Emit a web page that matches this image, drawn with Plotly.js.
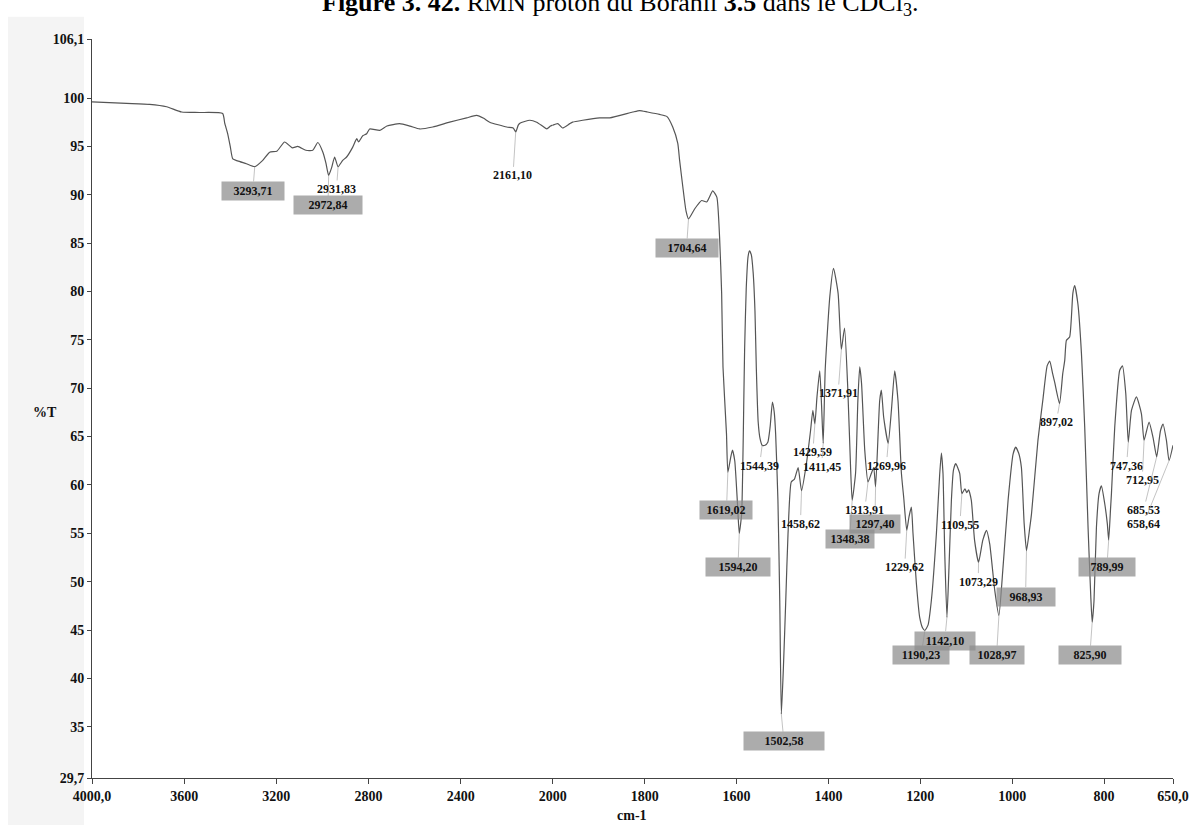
<!DOCTYPE html>
<html>
<head>
<meta charset="utf-8">
<script src="https://cdn.plot.ly/plotly-3.0.1.min.js"></script>
<style>html,body{margin:0;padding:0;background:#fff;}#chart{width:1195px;height:825px;}</style>
</head>
<body>
<div id="chart"></div>
<script>
// ---- Spectrum data (wavenumber cm-1, %T) ----
const wavenumber = [4000,3850,3750,3676,3611,3533,3433,3424,3411,3400,3389,3368,3330,3294,3259,3229,3198,3164,3131,3107,3072,3042,3020,2998,2985,2973,2960,2947,2932,2912,2895,2869,2851,2843,2825,2808,2795,2751,2720,2665,2620,2578,2521,2448,2374,2331,2300,2274,2200,2172,2161,2150,2143,2100,2070,2045,2026,2010,2000,
1989,1979,1963,1957,1935,1898,1876,1826,1811,1794,1768,1752,1739,1728,1724,1717,1710,1704.6,1691,1676,1665,1652,1643,1637,1632.5,1629.6,1622,1619,1613,1609,1604,1598,1594.2,1589,1586.5,1584.5,1582.5,1579,1575,1572,1568,1564,1560,1557,1553,1549,1544.4,1538,1532,1527,1522,1518,1515,1510,1506,1502.6,1498,1493,1488,1481,1474,1466,1458.6,1448,1439,1434,1429.6,1425,1419,1415,1411.5,1407,1397,1389,1379,1372,1365,1358,1352,1348.4,1341,1336,1332,1328,1321,1313.9,1306.6,1301.5,1297.4,1288.5,1284.8,1279.8,1270,1263,1255.8,1248.6,1241.2,1236.2,1229.6,1224.7,1219.5,1216,1208.6,1201.4,1195,1190.2,1183.3,1175.9,1165,1158,1154.2,1150.7,1147,1142.1,1137.6,1132.4,1128,1123,1114.3,1109.6,1103,1099,1095,1089,1082,1073.3,1064,1056,1049,1038,1029,1020,1009,998,992.4,986,980,974,968.9,962,958,944,933,924,918.3,912,907.5,897,890,885.6,882,875,868,864,857,849.3,842.2,834.9,829,825.9,822,816.7,811,805.8,798.6,793,790,786,784,776.8,766,760,752.8,747.4,740.4,729.6,718.7,713,702.1,693.4,685.5,677.3,671.7,664.3,658.6,650];
const transmittance = [99.6,99.45,99.35,99.1,98.55,98.5,98.4,97.4,96.3,95.0,93.7,93.5,93.2,92.9,93.55,94.4,94.5,95.45,94.85,95.0,94.6,94.6,95.4,94.4,93.3,92.0,92.8,93.9,92.9,93.55,93.9,94.9,95.8,95.45,96.1,96.3,96.8,96.65,97.1,97.35,97.1,96.8,97.0,97.5,97.95,98.2,97.9,97.5,97.0,96.9,96.5,97.2,97.4,97.7,97.5,97.1,96.8,97.1,97.2,
97.35,96.9,97.35,97.5,97.7,97.95,97.95,98.55,98.7,98.55,98.3,98.1,97.0,95.3,93.55,90.8,88.3,87.5,88.55,89.4,89.25,90.4,89.75,85.6,79.8,72.2,65.3,61.3,62.8,63.6,62.5,58.0,55.0,57.0,62.0,68.0,74.0,80.3,83.6,84.2,83.8,82.0,78.0,72.0,66.5,64.8,64.1,64.1,64.4,66.0,68.55,67.5,65.3,58.4,48.0,36.3,41.2,48.0,55.0,60.3,60.6,61.8,59.4,62.2,65.6,67.7,66.3,69.1,71.8,68.2,64.3,72.0,79.5,82.4,79.8,74.0,76.2,70.0,62.0,58.4,61.2,68.7,72.2,70.5,63.6,60.3,61.2,61.8,59.8,68.7,69.8,67.0,64.3,67.7,71.8,68.7,61.2,58.7,55.3,56.7,57.7,55.0,49.8,46.3,45.2,44.95,45.5,48.1,55.0,61.0,63.3,61.2,53.2,46.3,51.5,58.4,61.5,62.2,61.2,59.1,59.6,59.2,59.5,58.4,54.3,52.0,54.3,55.3,53.9,49.1,46.5,51.5,58.4,63.2,63.9,63.3,61.8,56.0,53.2,55.5,57.0,64.6,68.9,72.3,72.8,71.5,70.6,68.4,71.5,72.9,74.95,75.3,79.8,80.6,78.7,73.6,66.0,55.6,48.5,45.8,48.0,55.6,59.1,59.9,58.05,56.0,54.3,57.5,59.1,66.0,71.85,72.3,69.45,64.4,67.7,69.1,67.35,64.6,66.5,64.9,62.9,65.6,66.3,64.6,62.5,64.1];

// ---- Peak picks ----
const peakLabels = ['3293,71','2931,83','2972,84','2161,10','1704,64','1619,02','1594,20','1544,39','1502,58','1458,62','1429,59','1411,45','1371,91','1348,38','1313,91','1297,40','1269,96','1229,62','1190,23','1142,10','1109,55','1073,29','1028,97','968,93','897,02','825,90','789,99','747,36','712,95','685,53','658,64'];
const peakWn = [3293.71,2931.83,2972.84,2161.10,1704.64,1619.02,1594.20,1544.39,1502.58,1458.62,1429.59,1411.45,1371.91,1348.38,1313.91,1297.40,1269.96,1229.62,1190.23,1142.10,1109.55,1073.29,1028.97,968.93,897.02,825.90,789.99,747.36,712.95,685.53,658.64];
const peakT = [92.9,92.9,92.0,96.5,87.5,61.3,55.0,64.1,36.3,59.4,66.3,64.3,74.0,58.4,60.3,59.8,64.3,55.3,44.95,46.3,59.1,52.0,46.5,53.2,68.4,45.8,54.3,64.4,64.6,62.9,62.5];

// ---- Axis tick labels ----
const yTickVals = [29.7,35,40,45,50,55,60,65,70,75,80,85,90,95,100,106.1];
const yTickText = ['29,7','35','40','45','50','55','60','65','70','75','80','85','90','95','100','106,1'];
const xTickVals1 = [4000,3600,3200,2800,2400,2000];
const xTickText1 = ['4000,0','3600','3200','2800','2400','2000'];
const xTickVals2 = [1800,1600,1400,1200,1000,800,650];
const xTickText2 = ['1800','1600','1400','1200','1000','800','650,0'];

// ---- Label placement (layout only): [wavenumber, %T] of the text centre ----
const labelPos = [[3302,90.4],[2939,90.6],[2976,88.9],[2173,92.0],[1709,84.5],[1622,57.4],[1597,51.5],[1550,62.0],[1497,33.5],[1461,56.0],[1434,63.4],[1415,61.9],[1379,69.5],[1354,54.4],[1321,57.4],[1299,56.0],[1274,62.0],[1234,51.5],[1198,42.4],[1147,43.9],[1114,55.9],[1074,50.0],[1034,42.4],[971,48.45],[904,66.5],[831,42.4],[794,51.5],[751,62.0],[717,60.5],[714,57.4],[714,56.0]];
const marked = [true,false,true,false,true,true,true,false,true,false,false,false,false,true,false,true,false,false,true,true,false,false,true,true,false,true,true,false,false,false,false];
const markWidth = [62,0,68,0,62,52,64,0,80,0,0,0,0,48,0,50,0,0,56,60,0,0,54,58,0,62,56,0,0,0,0];

const SPLIT = 2000;
const w1=[],t1=[],w2=[],t2=[];
wavenumber.forEach((w,i)=>{
  if (w>=SPLIT){w1.push(w);t1.push(transmittance[i]);}
  if (w<=SPLIT){w2.push(w);t2.push(transmittance[i]);}
});

const lineStyle = {color:'#555555', width:1.2, shape:'spline', smoothing:0.5};
const traces = [
  {x:w1, y:t1, xaxis:'x', yaxis:'y', mode:'lines', line:lineStyle, hoverinfo:'skip'},
  {x:w2, y:t2, xaxis:'x2', yaxis:'y', mode:'lines', line:lineStyle, hoverinfo:'skip'}
];

const serif = 'Liberation Serif, Times New Roman, serif';
const tickFont = {family:serif, size:14, color:'#111', weight:'bold'};

const annotations = peakLabels.map((txt,i)=>{
  const ref = peakWn[i] >= SPLIT ? 'x' : 'x2';
  const a = {
    text: txt, xref: ref, yref:'y', x: peakWn[i], y: peakT[i],
    axref: ref, ayref:'y', ax: labelPos[i][0], ay: labelPos[i][1],
    showarrow:true, arrowhead:0, arrowwidth:0.6, arrowcolor:'#9a9a9a', standoff:0,
    font:{family:serif, size:12, color:'#111', weight:'bold'},
    xanchor:'center', yanchor:'middle'
  };
  if (marked[i]) {
    a.bgcolor = 'rgba(140,140,140,0.72)';
    a.width = markWidth[i];
    a.height = 18;
    a.borderpad = 0;
  }
  return a;
});

annotations.push({
  text:'<b>Figure 3. 42.</b> RMN proton du Boranil <b>3.5</b> dans le CDCl<sub>3</sub>.',
  xref:'paper', yref:'paper', x:0.4885, y:1.047, xanchor:'center', yanchor:'middle',
  showarrow:false, font:{family:serif, size:26, color:'#000'}
});
annotations.push({
  text:'%T', xref:'paper', yref:'paper', x:-0.0435, y:0.4946, xanchor:'center', yanchor:'middle',
  showarrow:false, font:{family:serif, size:14, color:'#111', weight:'bold'}
});
annotations.push({
  text:'cm-1', xref:'paper', yref:'paper', x:0.4995, y:-0.0507, xanchor:'center', yanchor:'middle',
  showarrow:false, font:{family:serif, size:14, color:'#111', weight:'bold'}
});

const axisCommon = {
  showline:true, linecolor:'#444', linewidth:1, ticks:'outside', ticklen:5, tickcolor:'#444',
  showgrid:false, zeroline:false, tickfont:tickFont, fixedrange:true, tickmode:'array'
};

const layout = {
  width:1195, height:825,
  margin:{l:92, r:22, t:39, b:47},
  paper_bgcolor:'#ffffff', plot_bgcolor:'#ffffff',
  showlegend:false,
  xaxis: Object.assign({}, axisCommon, {domain:[0,0.4263], range:[4000,2000], tickvals:xTickVals1, ticktext:xTickText1, anchor:'y'}),
  xaxis2: Object.assign({}, axisCommon, {domain:[0.4263,1], range:[2000,650], tickvals:xTickVals2, ticktext:xTickText2, anchor:'y'}),
  yaxis: Object.assign({}, axisCommon, {range:[29.7,106.1], tickvals:yTickVals, ticktext:yTickText, ticklen:4, anchor:'x'}),
  shapes:[
    {type:'rect', xref:'paper', yref:'paper', x0:-84/1081, x1:-8/1081, y0:-47/739, y1:1.03, fillcolor:'rgba(0,0,0,0.045)', line:{width:0}, layer:'below'}
  ],
  annotations: annotations
};

Plotly.newPlot('chart', traces, layout, {displayModeBar:false, staticPlot:true});
</script>
</body>
</html>
